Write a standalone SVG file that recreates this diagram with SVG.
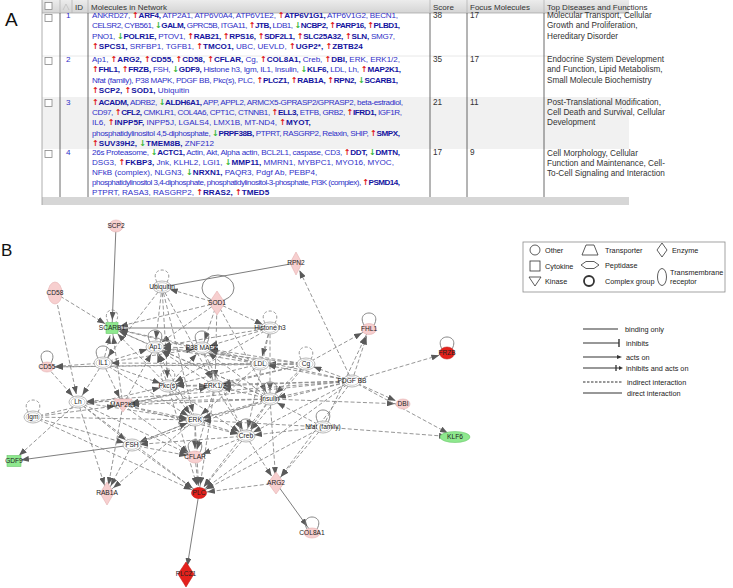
<svg xmlns="http://www.w3.org/2000/svg" width="733" height="588" viewBox="0 0 733 588">
<defs>
<linearGradient id="hg" x1="0" y1="0" x2="0" y2="1"><stop offset="0" stop-color="#ececec"/><stop offset="1" stop-color="#d4d4d4"/></linearGradient>
<marker id="a" markerUnits="userSpaceOnUse" markerWidth="8" markerHeight="6" refX="16" refY="3" orient="auto"><path d="M0,0 L8,3 L0,6 z" fill="#5a5a5a"/></marker>
</defs>
<style>
text{font-family:"Liberation Sans",Arial,sans-serif}
.t{font-size:8.1px;fill:#2f2fc8}
.t .b{font-weight:bold;fill:#1414a0}
.u{fill:#e0201c;font-weight:bold;font-family:"DejaVu Sans",sans-serif}
.d{fill:#34b534;font-weight:bold;font-family:"DejaVu Sans",sans-serif}
.h{font-size:8px;fill:#333}
.f{font-size:8.2px;fill:#333}
.cb{fill:#fff;stroke:#888;stroke-width:0.8}
.vl{stroke:#444;stroke-width:0.8}
.hl{stroke:#aaa;stroke-width:0.8}
.c line{stroke:#8a8a8a;stroke-width:0.9;stroke-dasharray:4 2.2;marker-end:url(#a)}
.c line.s{stroke:#6e6e6e;stroke-dasharray:none}
.c line.n{marker-end:none}
.o{fill:#fff;stroke:#9a9a9a;stroke-width:0.7}
.i{fill:none;stroke:#b0b0b0;stroke-width:0.6}
.lp{fill:none;stroke:#8a8a8a;stroke-width:0.9;stroke-dasharray:3 2}
.ls{fill:none;stroke:#777;stroke-width:0.9}
.pk{fill:#f7cfcf;stroke:#e4b0b0;stroke-width:0.6}
.rd{fill:#e4211c;stroke:#c41a16;stroke-width:0.6}
.gr{fill:#8ee88e;stroke:#6cc86c;stroke-width:0.6}
.nl{font-size:6.6px;fill:#222;text-anchor:middle}
.lg{font-size:7.3px;fill:#222}
.sh{fill:none;stroke:#333;stroke-width:0.8}
</style>

<!-- Labels A / B -->
<text x="5" y="26" font-size="19" fill="#111">A</text>
<text x="1" y="256" font-size="17" fill="#111">B</text>

<!-- Table -->
<g id="table">
<rect x="42" y="0" width="587" height="13" fill="url(#hg)"/>
<rect x="42" y="13" width="587" height="84" fill="#fff"/>
<rect x="42" y="97" width="587" height="52" fill="#f1f1f1"/>
<rect x="42" y="149" width="587" height="48" fill="#fff"/>
<rect x="42" y="197" width="587" height="8" fill="#d6d6d6"/>
<line class="hl" x1="42" y1="13" x2="629" y2="13"/>
<line x1="42" y1="56" x2="629" y2="56" stroke="#e2e2e2" stroke-width="0.8"/>
<line x1="42" y1="0" x2="42" y2="205" stroke="#999" stroke-width="0.8"/>
<g stroke="#b4b4b4" stroke-width="0.8"><line x1="60" y1="0" x2="60" y2="13"/><line x1="72" y1="0" x2="72" y2="13"/><line x1="88" y1="0" x2="88" y2="13"/><line x1="430" y1="0" x2="430" y2="13"/><line x1="467" y1="0" x2="467" y2="13"/><line x1="544" y1="0" x2="544" y2="13"/></g>
<g class="vl"><line x1="60" y1="13" x2="60" y2="197"/><line x1="88" y1="13" x2="88" y2="197"/><line x1="430" y1="13" x2="430" y2="197"/><line x1="467" y1="13" x2="467" y2="197"/><line x1="544" y1="13" x2="544" y2="197"/></g>
<rect class="cb" x="45" y="2.5" width="7" height="7"/>
<rect class="cb" x="45" y="14.5" width="7" height="7"/>
<rect class="cb" x="45" y="57.5" width="7" height="7"/>
<rect class="cb" x="45" y="99.5" width="7" height="7"/>
<rect class="cb" x="45" y="150.5" width="7" height="7"/>
<polyline points="63,10 66,4 69,10" fill="none" stroke="#bbb" stroke-width="0.7"/>
<text class="h" x="75" y="9.5">ID</text>
<text class="h" x="91" y="9.5">Molecules in Network</text>
<text class="h" x="433" y="9.5">Score</text>
<text class="h" x="470" y="9.5">Focus Molecules</text>
<text class="h" x="547" y="9.5">Top Diseases and Functions</text>

<g class="t">
<text x="66" y="18">1</text><text x="66" y="62">2</text><text x="66" y="104.5">3</text><text x="66" y="154.5">4</text>
<!-- row 1 -->
<text x="92" y="18" textLength="306" lengthAdjust="spacing">ANKRD27, <tspan class="u">↑</tspan><tspan class="b">ARF4,</tspan> ATP2A1, ATP6V0A4, ATP6V1E2, <tspan class="u">↑</tspan><tspan class="b">ATP6V1G1,</tspan> ATP6V1G2, BECN1,</text>
<text x="92" y="28.4" textLength="308" lengthAdjust="spacing">CELSR2, CYB561, <tspan class="d">↓</tspan><tspan class="b">GALM,</tspan> GPRC5B, ITGA11, <tspan class="u">↑</tspan><tspan class="b">JTB,</tspan> LDB1, <tspan class="d">↓</tspan><tspan class="b">NCBP2,</tspan> <tspan class="u">↑</tspan><tspan class="b">PARP16,</tspan> <tspan class="u">↑</tspan><tspan class="b">PLBD1,</tspan></text>
<text x="92" y="38.8" textLength="303" lengthAdjust="spacing">PNO1, <tspan class="d">↓</tspan><tspan class="b">POLR1E,</tspan> PTOV1, <tspan class="u">↑</tspan><tspan class="b">RAB21,</tspan> <tspan class="u">↑</tspan><tspan class="b">RPS16,</tspan> <tspan class="u">↑</tspan><tspan class="b">SDF2L1,</tspan> <tspan class="u">↑</tspan><tspan class="b">SLC25A32,</tspan> <tspan class="u">↑</tspan><tspan class="b">SLN,</tspan> SMG7,</text>
<text x="92" y="49.2"><tspan class="u">↑</tspan><tspan class="b">SPCS1,</tspan> SRFBP1, TGFB1, <tspan class="u">↑</tspan><tspan class="b">TMCO1,</tspan> UBC, UEVLD, <tspan class="u">↑</tspan><tspan class="b">UGP2*,</tspan> <tspan class="u">↑</tspan><tspan class="b">ZBTB24</tspan></text>
<!-- row 2 -->
<text x="92" y="62" textLength="308" lengthAdjust="spacing">Ap1, <tspan class="u">↑</tspan><tspan class="b">ARG2,</tspan> <tspan class="u">↑</tspan><tspan class="b">CD55,</tspan> <tspan class="u">↑</tspan><tspan class="b">CD58,</tspan> <tspan class="u">↑</tspan><tspan class="b">CFLAR,</tspan> Cg, <tspan class="u">↑</tspan><tspan class="b">COL8A1,</tspan> Creb, <tspan class="u">↑</tspan><tspan class="b">DBI,</tspan> ERK, ERK1/2,</text>
<text x="92" y="72.4" textLength="309" lengthAdjust="spacing"><tspan class="u">↑</tspan><tspan class="b">FHL1,</tspan> <tspan class="u">↑</tspan><tspan class="b">FRZB,</tspan> FSH, <tspan class="d">↓</tspan><tspan class="b">GDF9,</tspan> Histone h3, Igm, IL1, Insulin, <tspan class="d">↓</tspan><tspan class="b">KLF6,</tspan> LDL, Lh, <tspan class="u">↑</tspan><tspan class="b">MAP2K1,</tspan></text>
<text x="92" y="82.8" textLength="306" lengthAdjust="spacing">Nfat (family), P38 MAPK, PDGF BB, Pkc(s), PLC, <tspan class="u">↑</tspan><tspan class="b">PLCZ1,</tspan> <tspan class="u">↑</tspan><tspan class="b">RAB1A,</tspan> <tspan class="u">↑</tspan><tspan class="b">RPN2,</tspan> <tspan class="d">↓</tspan><tspan class="b">SCARB1,</tspan></text>
<text x="92" y="93.2"><tspan class="u">↑</tspan><tspan class="b">SCP2,</tspan> <tspan class="u">↑</tspan><tspan class="b">SOD1,</tspan> Ubiquitin</text>
<!-- row 3 -->
<text x="92" y="104.5" textLength="311" lengthAdjust="spacing"><tspan class="u">↑</tspan><tspan class="b">ACADM,</tspan> ADRB2, <tspan class="d">↓</tspan><tspan class="b">ALDH6A1,</tspan> APP, APPL2, ARMCX5-GPRASP2/GPRASP2, beta-estradiol,</text>
<text x="92" y="114.9" textLength="310" lengthAdjust="spacing">CD97, <tspan class="u">↑</tspan><tspan class="b">CFL2,</tspan> CMKLR1, COL4A6, CPT1C, CTNNB1, <tspan class="u">↑</tspan><tspan class="b">ELL3,</tspan> ETFB, GRB2, <tspan class="u">↑</tspan><tspan class="b">IFRD1,</tspan> IGF1R,</text>
<text x="92" y="125.3">IL6, <tspan class="u">↑</tspan><tspan class="b">INPP5F,</tspan> INPP5J, LGALS4, LMX1B, MT-ND4, <tspan class="u">↑</tspan><tspan class="b">MYOT,</tspan></text>
<text x="92" y="135.7" textLength="308" lengthAdjust="spacing">phosphatidylinositol 4,5-diphosphate, <tspan class="d">↓</tspan><tspan class="b">PRPF38B,</tspan> PTPRT, RASGRP2, Relaxin, SHIP, <tspan class="u">↑</tspan><tspan class="b">SMPX,</tspan></text>
<text x="92" y="146"><tspan class="u">↑</tspan><tspan class="b">SUV39H2,</tspan> <tspan class="d">↓</tspan><tspan class="b">TMEM8B,</tspan> ZNF212</text>
<!-- row 4 -->
<text x="92" y="154.5" textLength="308" lengthAdjust="spacing">26s Proteasome, <tspan class="d">↓</tspan><tspan class="b">ACTC1,</tspan> Actin, Akt, Alpha actin, BCL2L1, caspase, CD3, <tspan class="u">↑</tspan><tspan class="b">DDT,</tspan> <tspan class="d">↓</tspan><tspan class="b">DMTN,</tspan></text>
<text x="92" y="164.7">DSG3, <tspan class="u">↑</tspan><tspan class="b">FKBP3,</tspan> Jnk, KLHL2, LGI1, <tspan class="d">↓</tspan><tspan class="b">MMP11,</tspan> MMRN1, MYBPC1, MYO16, MYOC,</text>
<text x="92" y="174.9">NFkB (complex), NLGN3, <tspan class="d">↓</tspan><tspan class="b">NRXN1,</tspan> PAQR3, Pdgf Ab, PEBP4,</text>
<text x="92" y="185.1" textLength="308" lengthAdjust="spacing">phosphatidylinositol 3,4-diphosphate, phosphatidylinositol-3-phosphate, PI3K (complex), <tspan class="u">↑</tspan><tspan class="b">PSMD14,</tspan></text>
<text x="92" y="195.3">PTPRT, RASA3, RASGRP2, <tspan class="u">↑</tspan><tspan class="b">RRAS2,</tspan> <tspan class="u">↑</tspan><tspan class="b">TMED5</tspan></text>
</g>
<g class="f">
<text x="433" y="18">38</text><text x="470" y="18">17</text>
<text x="433" y="62">35</text><text x="470" y="62">17</text>
<text x="433" y="104.5">21</text><text x="470" y="104.5">11</text>
<text x="433" y="154.5">17</text><text x="470" y="154.5">9</text>
<text x="547" y="18">Molecular Transport, Cellular</text>
<text x="547" y="28.4">Growth and Proliferation,</text>
<text x="547" y="38.8">Hereditary Disorder</text>
<text x="547" y="62">Endocrine System Development</text>
<text x="547" y="72.4">and Function, Lipid Metabolism,</text>
<text x="547" y="82.8">Small Molecule Biochemistry</text>
<text x="547" y="104.5">Post-Translational Modification,</text>
<text x="547" y="114.9">Cell Death and Survival, Cellular</text>
<text x="547" y="125.3">Development</text>
<text x="547" y="155.5">Cell Morphology, Cellular</text>
<text x="547" y="165.5">Function and Maintenance, Cell-</text>
<text x="547" y="175.5">To-Cell Signaling and Interaction</text>
</g>
</g>

<!-- Connectors -->
<g class="c" id="connectors">
<line class="s" x1="116" y1="226" x2="112" y2="328"/>
<line class="s n" x1="162" y1="287" x2="296" y2="263"/>
<line class="s n" x1="112" y1="328" x2="270" y2="328"/>
<line class="s" x1="132" y1="445" x2="13" y2="461"/>
<line class="s" x1="199" y1="493" x2="186" y2="574"/>
<line class="s" x1="276" y1="483" x2="312" y2="533"/>
<line x1="55" y1="293" x2="112" y2="328"/>
<line x1="217" y1="303" x2="162" y2="287"/>
<line x1="217" y1="303" x2="112" y2="328"/>
<line x1="217" y1="303" x2="155" y2="347"/>
<line x1="217" y1="303" x2="202" y2="348"/>
<line x1="217" y1="303" x2="270" y2="328"/>
<line x1="217" y1="303" x2="215" y2="386"/>
<line x1="217" y1="303" x2="270" y2="399"/>
<line x1="162" y1="287" x2="155" y2="347"/>
<line x1="162" y1="287" x2="168" y2="386"/>
<line x1="162" y1="287" x2="215" y2="386"/>
<line x1="162" y1="287" x2="103" y2="363"/>
<line x1="162" y1="287" x2="195" y2="420"/>
<line x1="270" y1="328" x2="155" y2="347"/>
<line x1="270" y1="328" x2="202" y2="348"/>
<line x1="270" y1="328" x2="260" y2="364"/>
<line x1="270" y1="328" x2="270" y2="399"/>
<line x1="270" y1="328" x2="168" y2="386"/>
<line x1="270" y1="328" x2="246" y2="436"/>
<line x1="260" y1="364" x2="112" y2="328"/>
<line x1="155" y1="347" x2="112" y2="328"/>
<line x1="202" y1="348" x2="112" y2="328"/>
<line x1="103" y1="363" x2="112" y2="328"/>
<line x1="123" y1="405" x2="112" y2="328"/>
<line x1="168" y1="386" x2="112" y2="328"/>
<line x1="270" y1="399" x2="112" y2="328"/>
<line x1="103" y1="363" x2="47" y2="367"/>
<line x1="260" y1="364" x2="47" y2="367"/>
<line x1="306" y1="364" x2="47" y2="367"/>
<line x1="47" y1="367" x2="78" y2="402"/>
<line x1="55" y1="293" x2="78" y2="402"/>
<line x1="103" y1="363" x2="155" y2="347"/>
<line x1="103" y1="363" x2="78" y2="402"/>
<line x1="103" y1="363" x2="123" y2="405"/>
<line x1="103" y1="363" x2="195" y2="420"/>
<line x1="103" y1="363" x2="168" y2="386"/>
<line x1="103" y1="363" x2="202" y2="348"/>
<line x1="78" y1="402" x2="132" y2="445"/>
<line x1="78" y1="402" x2="195" y2="420"/>
<line x1="78" y1="402" x2="195" y2="457"/>
<line x1="78" y1="402" x2="199" y2="493"/>
<line x1="78" y1="402" x2="107" y2="493"/>
<line x1="78" y1="402" x2="13" y2="461"/>
<line x1="33" y1="417" x2="195" y2="420"/>
<line x1="33" y1="417" x2="199" y2="493"/>
<line x1="33" y1="417" x2="132" y2="445"/>
<line x1="33" y1="417" x2="168" y2="386"/>
<line x1="33" y1="417" x2="123" y2="405"/>
<line x1="123" y1="405" x2="195" y2="420"/>
<line x1="123" y1="405" x2="215" y2="386"/>
<line x1="123" y1="405" x2="246" y2="436"/>
<line x1="123" y1="405" x2="155" y2="347"/>
<line x1="123" y1="405" x2="195" y2="457"/>
<line x1="123" y1="405" x2="107" y2="493"/>
<line x1="168" y1="386" x2="215" y2="386"/>
<line x1="168" y1="386" x2="195" y2="420"/>
<line x1="168" y1="386" x2="202" y2="348"/>
<line x1="168" y1="386" x2="155" y2="347"/>
<line x1="168" y1="386" x2="246" y2="436"/>
<line x1="168" y1="386" x2="199" y2="493"/>
<line x1="215" y1="386" x2="246" y2="436"/>
<line x1="215" y1="386" x2="155" y2="347"/>
<line x1="215" y1="386" x2="199" y2="493"/>
<line x1="215" y1="386" x2="195" y2="457"/>
<line x1="202" y1="348" x2="155" y2="347"/>
<line x1="202" y1="348" x2="246" y2="436"/>
<line x1="202" y1="348" x2="215" y2="386"/>
<line x1="260" y1="364" x2="155" y2="347"/>
<line x1="260" y1="364" x2="202" y2="348"/>
<line x1="260" y1="364" x2="168" y2="386"/>
<line x1="260" y1="364" x2="195" y2="420"/>
<line x1="270" y1="399" x2="195" y2="420"/>
<line x1="270" y1="399" x2="246" y2="436"/>
<line x1="270" y1="399" x2="199" y2="493"/>
<line x1="270" y1="399" x2="215" y2="386"/>
<line x1="270" y1="399" x2="155" y2="347"/>
<line x1="270" y1="399" x2="202" y2="348"/>
<line x1="270" y1="399" x2="123" y2="405"/>
<line x1="270" y1="399" x2="78" y2="402"/>
<line x1="270" y1="399" x2="132" y2="445"/>
<line x1="270" y1="399" x2="403" y2="404"/>
<line x1="270" y1="399" x2="276" y2="483"/>
<line x1="195" y1="420" x2="246" y2="436"/>
<line x1="195" y1="420" x2="195" y2="457"/>
<line x1="195" y1="420" x2="199" y2="493"/>
<line x1="195" y1="420" x2="155" y2="347"/>
<line x1="195" y1="420" x2="132" y2="445"/>
<line x1="246" y1="436" x2="195" y2="457"/>
<line x1="246" y1="436" x2="276" y2="483"/>
<line x1="246" y1="436" x2="199" y2="493"/>
<line x1="246" y1="436" x2="132" y2="445"/>
<line x1="306" y1="364" x2="155" y2="347"/>
<line x1="306" y1="364" x2="202" y2="348"/>
<line x1="306" y1="364" x2="215" y2="386"/>
<line x1="306" y1="364" x2="260" y2="364"/>
<line x1="306" y1="364" x2="246" y2="436"/>
<line x1="306" y1="364" x2="369" y2="329"/>
<line x1="306" y1="364" x2="270" y2="399"/>
<line x1="306" y1="364" x2="123" y2="405"/>
<line x1="306" y1="364" x2="103" y2="363"/>
<line x1="352" y1="381" x2="369" y2="329"/>
<line x1="352" y1="381" x2="447" y2="353"/>
<line x1="352" y1="381" x2="403" y2="404"/>
<line x1="352" y1="381" x2="296" y2="263"/>
<line x1="352" y1="381" x2="455" y2="437"/>
<line x1="352" y1="381" x2="306" y2="364"/>
<line x1="352" y1="381" x2="215" y2="386"/>
<line x1="352" y1="381" x2="195" y2="420"/>
<line x1="352" y1="381" x2="246" y2="436"/>
<line x1="352" y1="381" x2="199" y2="493"/>
<line x1="352" y1="381" x2="276" y2="483"/>
<line x1="352" y1="381" x2="123" y2="405"/>
<line x1="352" y1="381" x2="270" y2="399"/>
<line x1="352" y1="381" x2="260" y2="364"/>
<line x1="352" y1="381" x2="202" y2="348"/>
<line x1="352" y1="381" x2="168" y2="386"/>
<line x1="352" y1="381" x2="78" y2="402"/>
<line x1="323" y1="427" x2="276" y2="483"/>
<line x1="323" y1="427" x2="369" y2="329"/>
<line x1="323" y1="427" x2="455" y2="437"/>
<line x1="323" y1="427" x2="199" y2="493"/>
<line x1="323" y1="427" x2="246" y2="436"/>
<line x1="323" y1="427" x2="195" y2="420"/>
<line x1="323" y1="427" x2="270" y2="399"/>
<line x1="132" y1="445" x2="107" y2="493"/>
<line x1="132" y1="445" x2="195" y2="457"/>
<line x1="132" y1="445" x2="199" y2="493"/>
<line x1="132" y1="445" x2="195" y2="420"/>
<line x1="195" y1="457" x2="199" y2="493"/>
<line x1="276" y1="483" x2="199" y2="493"/>
<line x1="195" y1="420" x2="107" y2="493"/>
</g>

<!-- Nodes -->
<g id="n-SCP2"><ellipse class="pk" cx="116" cy="226" rx="7" ry="6"/><text class="nl" x="116" y="228.3">SCP2</text></g>
<g id="n-RPN2"><polygon class="pk" points="296,252 302,263 296,275 290,263"/><text class="nl" x="296" y="265.3">RPN2</text></g>
<g id="n-Ubiquitin"><path class="lp" d="M157,282 C148,266 176,266 167,282"/><ellipse class="o" cx="162" cy="287" rx="9" ry="6"/><ellipse class="i" cx="162" cy="287" rx="7" ry="4.3"/><text class="nl" x="162" y="289.3">Ubiquitin</text></g>
<g id="n-SOD1"><ellipse class="ls" cx="218" cy="288" rx="16" ry="13"/><polygon class="pk" points="217,291 225,303 217,315 209,303"/><text class="nl" x="217" y="305.3">SOD1</text></g>
<g id="n-CD58"><ellipse class="pk" cx="55" cy="293" rx="7" ry="11"/><text class="nl" x="55" y="295.3">CD58</text></g>
<g id="n-SCARB1"><path class="lp" d="M108,322 C100,306 124,306 116,322"/><rect class="gr" x="106" y="322.5" width="12" height="11"/><text class="nl" x="112" y="330.3">SCARB1</text></g>
<g id="n-Histone-h3"><path class="lp" d="M265,323 C256,307 284,307 275,323"/><ellipse class="o" cx="270" cy="328" rx="9" ry="6"/><ellipse class="i" cx="270" cy="328" rx="7" ry="4.3"/><text class="nl" x="270" y="330.3">Histone h3</text></g>
<g id="n-Ap1"><path class="ls" d="M150,342 C141,326 169,326 160,342"/><ellipse class="o" cx="155" cy="347" rx="9" ry="6"/><ellipse class="i" cx="155" cy="347" rx="7" ry="4.3"/><text class="nl" x="155" y="349.3">Ap1</text></g>
<g id="n-P38-MAPK"><path class="ls" d="M197,343 C188,327 216,327 207,343"/><ellipse class="o" cx="202" cy="348" rx="9" ry="6"/><ellipse class="i" cx="202" cy="348" rx="7" ry="4.3"/><text class="nl" x="202" y="350.3">P38 MAPK</text></g>
<g id="n-CD55"><path class="ls" d="M43,363 C34,347 60,347 51,363"/><ellipse class="pk" cx="47" cy="367" rx="7" ry="5"/><text class="nl" x="47" y="369.3">CD55</text></g>
<g id="n-IL1"><path class="ls" d="M98,358 C89,342 117,342 108,358"/><ellipse class="o" cx="103" cy="363" rx="9" ry="6"/><ellipse class="i" cx="103" cy="363" rx="7" ry="4.3"/><text class="nl" x="103" y="365.3">IL1</text></g>
<g id="n-LDL"><ellipse class="o" cx="260" cy="364" rx="9" ry="6"/><ellipse class="i" cx="260" cy="364" rx="7" ry="4.3"/><text class="nl" x="260" y="366.3">LDL</text></g>
<g id="n-Pkc"><path class="lp" d="M163,381 C154,365 182,365 173,381"/><ellipse class="o" cx="168" cy="386" rx="9" ry="6"/><ellipse class="i" cx="168" cy="386" rx="7" ry="4.3"/><text class="nl" x="168" y="388.3">Pkc(s)</text></g>
<g id="n-ERK12"><ellipse class="o" cx="215" cy="386" rx="9" ry="6"/><ellipse class="i" cx="215" cy="386" rx="7" ry="4.3"/><text class="nl" x="215" y="388.3">ERK1/2</text></g>
<g id="n-Lh"><ellipse class="o" cx="78" cy="402" rx="9" ry="6"/><ellipse class="i" cx="78" cy="402" rx="7" ry="4.3"/><text class="nl" x="78" y="404.3">Lh</text></g>
<g id="n-MAP2K1"><polygon class="pk" points="114,399 132,399 123,412"/><text class="nl" x="123" y="407.3">MAP2K1</text></g>
<g id="n-Insulin"><path class="ls" d="M265,394 C256,378 284,378 275,394"/><ellipse class="o" cx="270" cy="399" rx="9" ry="6"/><ellipse class="i" cx="270" cy="399" rx="7" ry="4.3"/><text class="nl" x="270" y="401.3">Insulin</text></g>
<g id="n-Igm"><path class="lp" d="M28,412 C19,396 47,396 38,412"/><ellipse class="o" cx="33" cy="417" rx="9" ry="6"/><ellipse class="i" cx="33" cy="417" rx="7" ry="4.3"/><text class="nl" x="33" y="419.3">Igm</text></g>
<g id="n-ERK"><ellipse class="o" cx="195" cy="420" rx="9" ry="6"/><ellipse class="i" cx="195" cy="420" rx="7" ry="4.3"/><text class="nl" x="195" y="422.3">ERK</text></g>
<g id="n-Creb"><path class="ls" d="M241,431 C232,415 260,415 251,431"/><ellipse class="o" cx="246" cy="436" rx="9" ry="6"/><ellipse class="i" cx="246" cy="436" rx="7" ry="4.3"/><text class="nl" x="246" y="438.3">Creb</text></g>
<g id="n-Cg"><path class="lp" d="M301,359 C292,343 320,343 311,359"/><ellipse class="o" cx="306" cy="364" rx="9" ry="6"/><ellipse class="i" cx="306" cy="364" rx="7" ry="4.3"/><text class="nl" x="306" y="366.3">Cg</text></g>
<g id="n-PDGF-BB"><ellipse class="o" cx="352" cy="381" rx="9" ry="6"/><ellipse class="i" cx="352" cy="381" rx="7" ry="4.3"/><text class="nl" x="352" y="383.3">PDGF BB</text></g>
<g id="n-FHL1"><path class="ls" d="M364,325 C355,309 383,309 374,325"/><ellipse class="pk" cx="369" cy="329" rx="7.5" ry="5.5"/><text class="nl" x="369" y="331.3">FHL1</text></g>
<g id="n-FRZB"><path class="ls" d="M442,349 C433,333 461,333 452,349"/><ellipse class="rd" cx="447" cy="353" rx="7.5" ry="6"/><text class="nl" x="447" y="355.3">FRZB</text></g>
<g id="n-DBI"><ellipse class="pk" cx="403" cy="404" rx="7" ry="5"/><text class="nl" x="403" y="406.3">DBI</text></g>
<g id="n-Nfat"><path class="ls" d="M318,422 C309,406 337,406 328,422"/><ellipse class="o" cx="323" cy="427" rx="9" ry="6"/><ellipse class="i" cx="323" cy="427" rx="7" ry="4.3"/><text class="nl" x="323" y="429.3">Nfat (family)</text></g>
<g id="n-FSH"><ellipse class="o" cx="132" cy="445" rx="9" ry="6"/><ellipse class="i" cx="132" cy="445" rx="7" ry="4.3"/><text class="nl" x="132" y="447.3">FSH</text></g>
<g id="n-CFLAR"><path class="ls" d="M190,452 C181,436 209,436 200,452"/><ellipse class="pk" cx="195" cy="457" rx="8" ry="6"/><text class="nl" x="195" y="459.3">CFLAR</text></g>
<g id="n-GDF9"><rect class="gr" x="7" y="455.5" width="14" height="11"/><text class="nl" x="14" y="463.3">GDF9</text></g>
<g id="n-RAB1A"><polygon class="pk" points="107,482 114,493 107,505 100,493"/><text class="nl" x="107" y="495.3">RAB1A</text></g>
<g id="n-PLC"><ellipse class="rd" cx="199" cy="493" rx="7.5" ry="5.5"/><text class="nl" x="199" y="495.3">PLC</text></g>
<g id="n-ARG2"><polygon class="pk" points="276,472 284,483 276,494 268,483"/><text class="nl" x="276" y="485.3">ARG2</text></g>
<g id="n-COL8A1"><path class="ls" d="M307,529 C298,513 326,513 317,529"/><ellipse class="pk" cx="312" cy="533" rx="8" ry="5"/><text class="nl" x="312" y="535.3">COL8A1</text></g>
<g id="n-PLCZ1"><polygon class="rd" points="186,562 194,574 186,587 178,574"/><text class="nl" x="186" y="576.3">PLCZ1</text></g>
<g id="n-KLF6"><ellipse class="gr" cx="455" cy="437" rx="15" ry="5.5"/><text class="nl" x="455" y="439.3">KLF6</text></g>

<!-- Legend -->
<g id="legend-shapes">
<rect x="523" y="242" width="202" height="50" fill="#fff" stroke="#8c8c8c" stroke-width="0.8"/>
<circle class="sh" cx="535" cy="250" r="5"/>
<rect class="sh" x="530" y="261" width="10" height="10"/>
<polygon class="sh" points="529,277 541,277 535,286"/>
<polygon class="sh" points="586,245 594,245 598,255 582,255"/>
<polygon class="sh" points="581,265 586,261.5 594,261.5 599,265 594,268.5 586,268.5"/>
<circle cx="589" cy="281" r="5" fill="none" stroke="#333" stroke-width="1.8"/>
<polygon class="sh" points="662,243 667,250 662,257 657,250"/>
<ellipse class="sh" cx="662" cy="277" rx="4.5" ry="8.5"/>
<text class="lg" x="545" y="252.5">Other</text>
<text class="lg" x="545" y="268.5">Cytokine</text>
<text class="lg" x="545" y="284">Kinase</text>
<text class="lg" x="605" y="252.5">Transporter</text>
<text class="lg" x="605" y="267.5">Peptidase</text>
<text class="lg" x="605" y="283.5">Complex group</text>
<text class="lg" x="672" y="252.5">Enzyme</text>
<text class="lg" x="670" y="274.5">Transmembrane</text>
<text class="lg" x="670" y="284">receptor</text>
</g>
<g id="legend-lines" stroke="#333" stroke-width="1.1">
<line x1="583" y1="329" x2="618" y2="329"/>
<line x1="583" y1="343" x2="619" y2="343"/>
<line x1="619" y1="339" x2="619" y2="347" stroke-width="1.4"/>
<line x1="583" y1="357" x2="617" y2="357"/>
<polygon points="617,355 622,357 617,359" fill="#333" stroke="none"/>
<line x1="583" y1="368" x2="619" y2="368"/>
<line x1="616" y1="365" x2="616" y2="371" stroke-width="1.3"/>
<polygon points="619,366 623,368 619,370" fill="#333" stroke="none"/>
<line x1="583" y1="382" x2="622" y2="382" stroke-dasharray="2.5 1.5"/>
<line x1="583" y1="393" x2="622" y2="393"/>
</g>
<g class="lg">
<text x="625" y="331.5">binding only</text>
<text x="626" y="345.5">inhibits</text>
<text x="626" y="359.5">acts on</text>
<text x="626" y="370.5">inhibits and acts on</text>
<text x="627" y="384.5">indirect interaction</text>
<text x="627" y="395.5">direct interaction</text>
</g>
</svg>
